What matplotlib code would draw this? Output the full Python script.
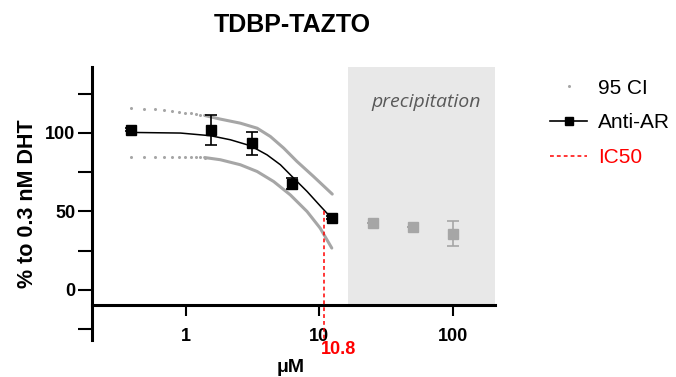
import matplotlib
matplotlib.use("Agg")
import matplotlib.pyplot as plt
from matplotlib.lines import Line2D
from matplotlib.transforms import blended_transform_factory

# measured points (uM, % of 0.3 nM DHT response)
conc = [0.39, 1.56, 3.125, 6.25, 12.5]
resp = [102.0, 102.0, 93.3, 67.5, 46.0]
resp_err = [1.0, 9.5, 7.3, 3.5, 1.0]

# points above solubility limit
precip_conc = [25, 50, 100]
precip_resp = [42.7, 40.0, 35.7]
precip_err = [0.0, 0.0, 8.0]

# fitted curve
fit_x = [0.39, 0.917, 1.54, 2.17, 3.06, 4.07, 5.12, 6.43, 8.1, 10.15, 11.7, 12.5]
fit_y = [100.3, 99.9, 98.2, 95.6, 91.8, 86.0, 79.7, 71.2, 62.7, 53.5, 47.8, 46.0]

# 95% confidence band: sparse dots at low conc, then a continuous line
ci_dot_x = [0.39, 0.49, 0.59, 0.69, 0.79, 0.89, 0.99, 1.09, 1.19, 1.29, 1.39]
ci_up_dot_y = [115.8, 115.4, 115.0, 114.5, 114.0, 113.3, 112.8, 112.4, 112.0, 111.6, 111.1]
ci_lo_dot_y = [84.4, 84.4, 84.5, 84.5, 84.5, 84.6, 84.6, 84.6, 84.5, 84.5, 84.3]
ci_up_x = [1.39, 1.82, 2.57, 3.43, 4.31, 5.42, 6.81, 9.06, 12.5]
ci_up_y = [111.1, 108.8, 106.2, 103.0, 97.7, 90.3, 81.8, 72.2, 61.0]
ci_lo_x = [1.39, 1.82, 2.57, 3.43, 4.56, 6.07, 8.1, 10.15, 12.4]
ci_lo_y = [84.3, 82.9, 79.7, 75.4, 69.0, 60.5, 49.9, 39.3, 26.6]

ic50 = 10.8
precip_start = 16.5

grey = "#a6a6a6"
plt.rcParams["font.family"] = ["Liberation Sans", "DejaVu Sans"]

fig = plt.figure(figsize=(6.76, 3.77), dpi=100)
ax = fig.add_axes([92 / 676, 1 - 340 / 377, (495 - 92) / 676, (340 - 67) / 377])
ax.set_xscale("log")
ax.set_xlim(0.2, 205.8)
ax.set_ylim(-32, 142)

# precipitation zone
ax.fill_between([precip_start, 205.8], -10, 142, color="#e8e8e8", lw=0, zorder=0)
ax.text(63, 120, "precipitation", style="italic", color="#595959", fontsize=14,
        family=["Open Sans", "DejaVu Sans"], ha="center", va="center")

# confidence band
ax.plot(ci_dot_x, ci_up_dot_y, "o", color=grey, ms=2.2, mew=0, zorder=2)
ax.plot(ci_dot_x, ci_lo_dot_y, "o", color=grey, ms=2.2, mew=0, zorder=2)
ax.plot(ci_up_x, ci_up_y, color=grey, lw=2.2, solid_capstyle="round",
        solid_joinstyle="round", zorder=2)
ax.plot(ci_lo_x, ci_lo_y, color=grey, lw=2.2, solid_capstyle="round",
        solid_joinstyle="round", zorder=2)

ax.plot(fit_x, fit_y, color="black", lw=1.1, zorder=3)
ax.errorbar(conc, resp, yerr=resp_err, fmt="s", color="black", ms=7,
            capsize=4, elinewidth=1.2, capthick=1.2, zorder=4)
ax.errorbar(precip_conc, precip_resp, yerr=precip_err, fmt="s", color=grey, ms=7,
            capsize=4, elinewidth=1.2, capthick=1.2, zorder=4)

# IC50 marker
ax.plot([ic50, ic50], [50, -34], color="red", lw=1.1, linestyle=(0, (2.5, 2)),
        clip_on=False, zorder=5)
ax.text(10.3, 1 - 350 / 377, "10.8", color="red", fontweight="bold", fontsize=13,
        ha="left", va="center",
        transform=blended_transform_factory(ax.transData, fig.transFigure))

# axes styling
for s in ["top", "right"]:
    ax.spines[s].set_visible(False)
ax.spines["bottom"].set_position(("data", -10))
ax.spines["left"].set_linewidth(2.2)
ax.spines["bottom"].set_linewidth(2.2)
ax.set_xticks([1, 10, 100])
ax.set_xticklabels(["1", "10", "100"])
ax.xaxis.set_minor_locator(matplotlib.ticker.NullLocator())
ax.set_yticks([-25, 0, 25, 50, 75, 100, 125])
ax.set_yticklabels(["", "0", "", "50", "", "100", ""])
ax.tick_params(axis="x", length=8, width=1.5, pad=8, labelsize=13)
ax.tick_params(axis="y", length=10, width=1.5, pad=2, labelsize=13)
for lab in ax.get_xticklabels() + ax.get_yticklabels():
    lab.set_fontweight("bold")

ax.set_ylabel("% to 0.3 nM DHT", fontsize=15.5, fontweight="bold", labelpad=5)
fig.text(291 / 676, 1 - 367 / 377, "μM", fontsize=14, fontweight="bold",
         ha="center", va="center")
fig.text(292 / 676, 1 - 25 / 377, "TDBP-TAZTO", fontsize=18, fontweight="bold",
         ha="center", va="center")

handles = [
    Line2D([], [], color=grey, marker="o", ms=2.2, mew=0, linestyle="none"),
    Line2D([], [], color="black", marker="s", ms=6, lw=1.2),
    Line2D([], [], color="red", lw=1.1, linestyle=(0, (2.5, 2))),
]
leg = fig.legend(handles, ["95 CI", "Anti-AR", "IC50"], loc="upper left",
                 bbox_to_anchor=(531 / 676, 1 - 60 / 377), frameon=False,
                 fontsize=15, handlelength=1.8, handletextpad=0.5, labelspacing=0.75)
leg.get_texts()[2].set_color("red")

fig.savefig("out.png", dpi=100)
